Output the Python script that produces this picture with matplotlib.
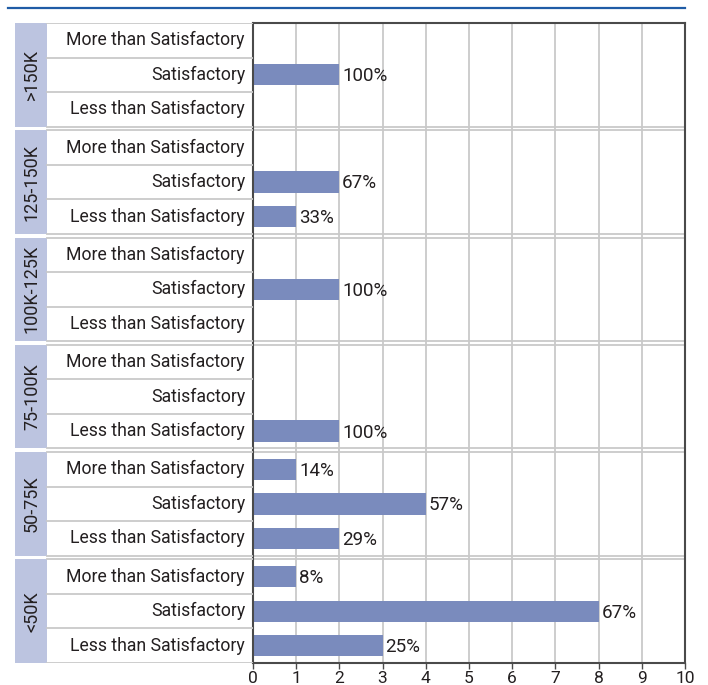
import matplotlib.pyplot as plt
from matplotlib.patches import Rectangle

plt.rcParams['font.family'] = ['Roboto', 'DejaVu Sans']

groups = [">150K", "125-150K", "100K-125K", "75-100K", "50-75K", "<50K"]
ratings = ["More than Satisfactory", "Satisfactory", "Less than Satisfactory"]
# counts per group, in the order of `ratings`
counts = [
    [0, 2, 0],
    [0, 2, 1],
    [0, 2, 0],
    [0, 0, 2],
    [1, 4, 2],
    [1, 8, 3],
]
pct_labels = [
    [None, "100%", None],
    [None, "67%", "33%"],
    [None, "100%", None],
    [None, None, "100%"],
    ["14%", "57%", "29%"],
    ["8%", "67%", "25%"],
]
x_ticks = list(range(0, 11))

BAR = "#7a8bbd"
LAV = "#bcc4e0"
GRID = "#c9c9c9"
FRAME = "#4a4a4a"
TEXT = "#231f20"

W, H = 708, 685
fig = plt.figure(figsize=(W / 100, H / 100), dpi=100)

top_px, bot_px = 23, 663
gap = 0.11
n = len(groups)
ymax = n * 3 + (n - 1) * gap

ax = fig.add_axes([253 / W, (H - bot_px) / H, (685 - 253) / W, (bot_px - top_px) / H])
lab = fig.add_axes([15 / W, (H - bot_px) / H, (253 - 15) / W, (bot_px - top_px) / H])

ax.set_xlim(0, 10)
ax.set_ylim(ymax, 0)
lab.set_xlim(15, 253)
lab.set_ylim(ymax, 0)
lab.axis("off")

for x in x_ticks[1:-1]:
    ax.axvline(x, color=GRID, lw=1.3, zorder=0)

for gi, g in enumerate(groups):
    gtop = gi * (3 + gap)
    gbot = gtop + 3
    # group boundary lines across the plot
    if gi > 0:
        ax.axhline(gtop, color=GRID, lw=1.3, zorder=0)
    if gi < n - 1:
        ax.axhline(gbot, color=GRID, lw=1.3, zorder=0)
    # lavender group tab with rotated label
    lab.add_patch(Rectangle((15, gtop), 32, 3, facecolor=LAV, edgecolor="none"))
    lab.text(32, gtop + 1.5, g, rotation=90, ha="center", va="center",
             fontsize=13, color=TEXT)
    # row label boxes
    for k in range(4):
        lab.plot([47, 253], [gtop + k, gtop + k], color=GRID, lw=1.3)
    for ri, r in enumerate(ratings):
        yc = gtop + ri + 0.5
        lab.text(245, yc, r, ha="right", va="center", fontsize=12.7, color=TEXT)
        v = counts[gi][ri]
        if v > 0:
            ax.barh(yc, v, height=0.62, color=BAR, zorder=2)
        if pct_labels[gi][ri]:
            ax.annotate(pct_labels[gi][ri], (v, yc), xytext=(2, -1),
                        textcoords="offset points", ha="left", va="center",
                        fontsize=13.5, color=TEXT, annotation_clip=False)

ax.set_yticks([])
ax.set_xticks(x_ticks)
ax.tick_params(axis="x", length=4, width=1, color=FRAME, labelsize=12.5,
               labelcolor=TEXT, pad=1.5)
for s in ax.spines.values():
    s.set_color(FRAME)
    s.set_linewidth(1.5)

# blue rule across the top
fig.add_artist(plt.Line2D([8 / W, 685 / W], [(H - 8) / H, (H - 8) / H],
                          color="#1f5ca6", lw=1.6))

fig.savefig("out.png", dpi=100)
